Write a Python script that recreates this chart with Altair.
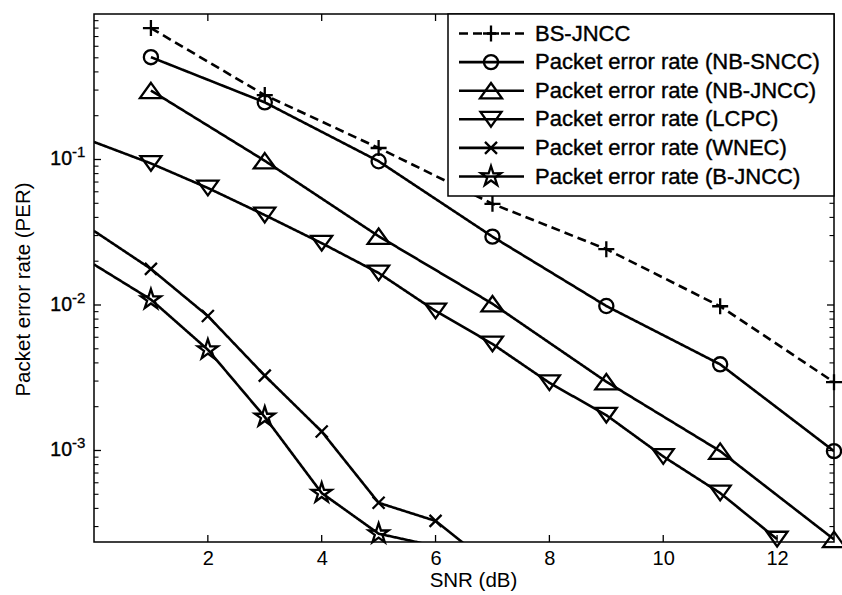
import altair as alt
import pandas as pd

FONT = "Liberation Sans"

# ---- data -------------------------------------------------------------
series_names = [
    "BS-JNCC",
    "Packet error rate (NB-SNCC)",
    "Packet error rate (NB-JNCC)",
    "Packet error rate (LCPC)",
    "Packet error rate (WNEC)",
    "Packet error rate (B-JNCC)",
]

snr_odd = [1, 3, 5, 7, 9, 11, 13]
per_bs_jncc = [0.80, 0.277, 0.120, 0.0496, 0.0242, 0.0098, 0.00295]
per_nb_sncc = [0.505, 0.247, 0.0973, 0.0295, 0.00984, 0.00391, 0.00099]
per_nb_jncc = [0.298, 0.098, 0.0297, 0.0102, 0.00297, 0.00099, 0.000245]

snr_lcpc = [0, 1, 2, 3, 4, 5, 6, 7, 8, 9, 10, 11, 12]
per_lcpc = [0.132, 0.094, 0.0637, 0.0415, 0.0266, 0.0166, 0.0091, 0.0054,
            0.00292, 0.00175, 0.00091, 0.00051, 0.000246]

snr_wnec = [0, 1, 2, 3, 4, 5, 6, 7]
per_wnec = [0.0323, 0.0177, 0.0084, 0.00327, 0.00135, 0.000437, 0.000328, 0.00016]

snr_bjncc = [0, 1, 2, 3, 4, 5, 6]
per_bjncc = [0.019, 0.0109, 0.00493, 0.0017, 0.00051, 0.000268, 0.00022]

x_tick_values = [2, 4, 6, 8, 10, 12]
y_major_values = [1e-3, 1e-2, 1e-1]
y_major_exponents = ["-3", "-2", "-1"]

# ---- layout -----------------------------------------------------------
W, H = 740, 528
Y_MIN, Y_MAX = 2.35e-4, 1.0

frames = []
for name, xs, ys in [
    (series_names[0], snr_odd, per_bs_jncc),
    (series_names[1], snr_odd, per_nb_sncc),
    (series_names[2], snr_odd, per_nb_jncc),
    (series_names[3], snr_lcpc, per_lcpc),
    (series_names[4], snr_wnec, per_wnec),
    (series_names[5], snr_bjncc, per_bjncc),
]:
    frames.append(pd.DataFrame({"snr": xs, "per": ys, "series": name}))
df = pd.concat(frames, ignore_index=True)

y_minor_values = [
    m * 10.0 ** e
    for e in range(-4, 0)
    for m in range(2, 10)
    if Y_MIN <= m * 10.0 ** e <= Y_MAX
]

# marker glyphs (unit-square SVG paths where no built-in shape fits)
PLUS = "M-1,0H1M0,-1V1"
CROSS_X = "M-1,-1L1,1M-1,1L1,-1"
TRI_UP = "M0,-0.7L1,0.7L-1,0.7Z"
TRI_DOWN = "M0,0.7L1,-0.7L-1,-0.7Z"
STAR = ("M0,-1L0.223,-0.307L0.951,-0.309L0.361,0.117L0.588,0.809L0,0.38"
        "L-0.588,0.809L-0.361,0.117L-0.951,-0.309L-0.223,-0.307Z")

shape_scale = alt.Scale(domain=series_names,
                        range=[PLUS, "circle", TRI_UP, TRI_DOWN, CROSS_X, STAR])
size_scale = alt.Scale(type="ordinal", domain=series_names,
                       range=[256, 200, 484, 441, 144, 441])
dash_scale = alt.Scale(domain=series_names,
                       range=[[9, 5], [1, 0], [1, 0], [1, 0], [1, 0], [1, 0]])

x_scale = alt.Scale(domain=[0, 13], nice=False, zero=False)
y_scale = alt.Scale(type="log", domain=[Y_MIN, Y_MAX], nice=False)

x_axis = alt.Axis(
    values=x_tick_values, title="SNR (dB)", ticks=False, domain=False, grid=False,
    labelFont=FONT, labelFontSize=20, labelColor="black", labelPadding=6,
    titleFont=FONT, titleFontSize=20.5, titleFontWeight="normal", titleColor="black",
    titleX=379, titleY=28, titleBaseline="top",
)
y_axis = alt.Axis(
    labels=False, ticks=False, domain=False, grid=False,
    title="Packet error rate (PER)",
    titleFont=FONT, titleFontSize=20.5, titleFontWeight="normal", titleColor="black",
    titleX=-61, titleY=275, titleBaseline="bottom", titleAlign="center",
)
x_enc = alt.X("snr:Q", scale=x_scale, axis=x_axis)
y_enc = alt.Y("per:Q", scale=y_scale, axis=y_axis)

base = alt.Chart(df)

lines = base.mark_line(color="black", strokeWidth=2.6, clip=True).encode(
    x=x_enc, y=y_enc,
    detail="series:N",
    strokeDash=alt.StrokeDash("series:N", scale=dash_scale, legend=None),
)

points = base.transform_filter(
    (alt.datum.snr > 0) & (alt.datum.per >= Y_MIN)
).mark_point(filled=False, color="black", strokeWidth=2.3, opacity=1).encode(
    x=x_enc, y=y_enc,
    shape=alt.Shape("series:N", scale=shape_scale, legend=None),
    size=alt.Size("series:N", scale=size_scale, legend=None),
)

# inward ticks on all four sides
xt = alt.Chart(pd.DataFrame({"snr": x_tick_values}))
ticks_bottom = xt.mark_rule(color="black", strokeWidth=1.3).encode(
    x=x_enc, y=alt.value(H), y2=alt.value(H - 7))
ticks_top = xt.mark_rule(color="black", strokeWidth=1.3).encode(
    x=x_enc, y=alt.value(0), y2=alt.value(7))

ymaj = alt.Chart(pd.DataFrame({"per": y_major_values, "exp": y_major_exponents}))
ymin = alt.Chart(pd.DataFrame({"per": y_minor_values}))
maj_left = ymaj.mark_rule(color="black", strokeWidth=1.3).encode(
    y=y_enc, x=alt.value(0), x2=alt.value(7))
maj_right = ymaj.mark_rule(color="black", strokeWidth=1.3).encode(
    y=y_enc, x=alt.value(W - 7), x2=alt.value(W))
min_left = ymin.mark_rule(color="black", strokeWidth=1.1).encode(
    y=y_enc, x=alt.value(0), x2=alt.value(4.5))
min_right = ymin.mark_rule(color="black", strokeWidth=1.1).encode(
    y=y_enc, x=alt.value(W - 4.5), x2=alt.value(W))

# "10" with a raised exponent for each decade label
ylab_base = ymaj.mark_text(align="right", baseline="middle", font=FONT,
                           fontSize=19.5, color="black", stroke="black",
                           strokeWidth=0.4).encode(
    y=y_enc, x=alt.value(-22), text=alt.value("10"))
ylab_exp = ymaj.mark_text(align="left", baseline="middle", font=FONT,
                          fontSize=15, color="black", stroke="black",
                          strokeWidth=0.3, dy=-7).encode(
    y=y_enc, x=alt.value(-22), text="exp:N")

main = alt.layer(lines, points, ticks_bottom, ticks_top,
                 maj_left, maj_right, min_left, min_right, ylab_base, ylab_exp)

# ---- legend box in the upper-right corner ------------------------------
legend_box = alt.Chart(alt.Data(values=[{"k": 0}])).mark_rect(
    fill="white", stroke="black", strokeWidth=1.5).encode(
    x=alt.value(354), x2=alt.value(740), y=alt.value(0), y2=alt.value(182))

leg = alt.Chart(pd.DataFrame({"series": series_names,
                              "row": list(range(len(series_names)))})
                ).transform_calculate(ly="19.5 + datum.row * 28.6")
leg_y = alt.Y("ly:Q", scale=None, axis=None)

legend_lines = leg.mark_rule(color="black", strokeWidth=2.6).encode(
    x=alt.value(365), x2=alt.value(430), y=leg_y,
    strokeDash=alt.StrokeDash("series:N", scale=dash_scale, legend=None))
legend_marks = leg.mark_point(filled=False, color="black", strokeWidth=2.3,
                              opacity=1).encode(
    x=alt.value(397), y=leg_y,
    shape=alt.Shape("series:N", scale=shape_scale, legend=None),
    size=alt.Size("series:N", scale=size_scale, legend=None))
legend_text = leg.mark_text(align="left", baseline="middle", font=FONT,
                            fontSize=22, color="black", stroke="black",
                            strokeWidth=0.4).encode(
    x=alt.value(441), y=leg_y, text="series:N")

legend = alt.layer(legend_box, legend_lines, legend_marks, legend_text)

chart = alt.layer(main, legend).resolve_scale(y="independent").properties(
    width=W, height=H,
    autosize=alt.AutoSizeParams(type="none"),
    padding={"left": 94, "top": 14, "right": 8, "bottom": 53},
    background="white",
).configure_view(stroke="black", strokeWidth=1.5)

chart.save("out.html", embed_options={"renderer": "svg", "actions": False})
